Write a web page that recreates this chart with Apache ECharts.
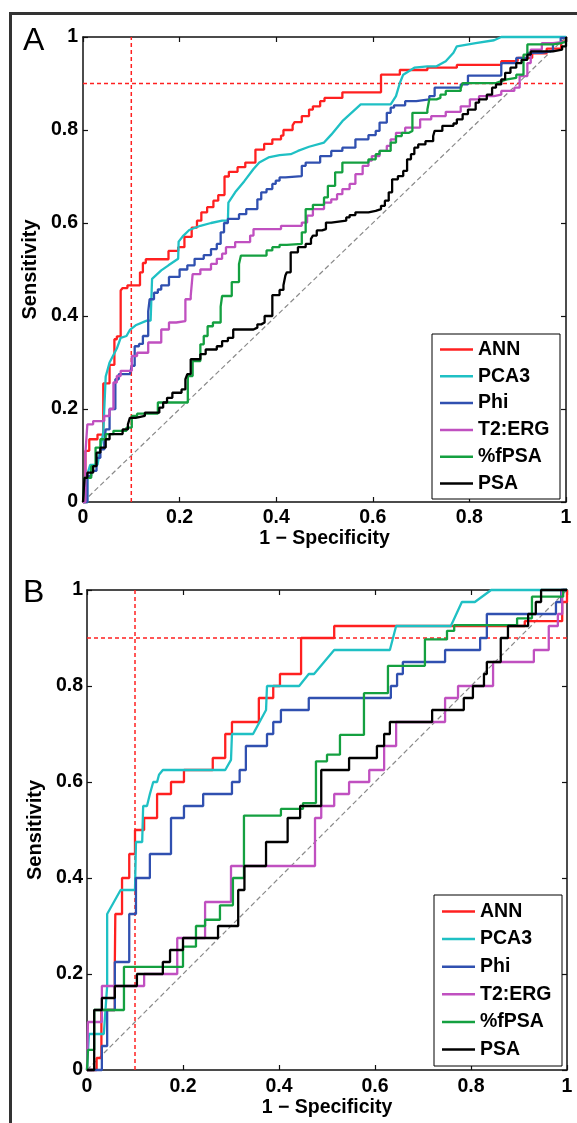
<!DOCTYPE html>
<html><head><meta charset="utf-8">
<script src="https://cdn.jsdelivr.net/npm/echarts@6/dist/echarts.min.js"></script>
<style>html,body{margin:0;padding:0;background:#fff}#c{width:577px;height:1123px}</style>
</head><body><div id="c"></div>
<script>
// ---------- data ----------
const seriesNames = ['ANN', 'PCA3', 'Phi', 'T2:ERG', '%fPSA', 'PSA'];
const seriesColors = ['#ff2020', '#1fc0c4', '#3050b0', '#c050c0', '#14a040', '#000000'];
const tickLabels = ['0', '0.2', '0.4', '0.6', '0.8', '1'];
const panelLabels = ['A', 'B'];
const refFpr = 0.1;   // vertical dashed red line (1 - specificity)
const refSens = 0.9;  // horizontal dashed red line (sensitivity)
const chanceLine = [[0, 0], [1, 1]];

// Panel A  ([1-specificity, sensitivity])
const annA = [[0,0],[0.005,0.11],[0.013,0.135],[0.03,0.145],[0.042,0.255],[0.055,0.295],[0.065,0.35],[0.07,0.356],[0.078,0.455],[0.082,0.46],[0.092,0.466],[0.118,0.494],[0.124,0.514],[0.13,0.522],[0.177,0.54],[0.197,0.548],[0.21,0.57],[0.225,0.59],[0.236,0.605],[0.245,0.623],[0.257,0.634],[0.27,0.648],[0.28,0.66],[0.293,0.7],[0.302,0.71],[0.32,0.72],[0.336,0.73],[0.357,0.758],[0.375,0.77],[0.392,0.78],[0.41,0.788],[0.415,0.8],[0.434,0.81],[0.438,0.817],[0.453,0.83],[0.468,0.844],[0.476,0.851],[0.491,0.862],[0.5,0.869],[0.537,0.881],[0.617,0.919],[0.656,0.929],[0.713,0.934],[0.774,0.94],[0.866,0.948],[0.9,0.955],[0.93,0.965],[0.96,0.975],[0.99,0.99],[1,1]];
const pca3A = [[0,0],[0.009,0],[0.009,0.06],[0.015,0.08],[0.03,0.08],[0.042,0.15],[0.047,0.27],[0.055,0.3],[0.07,0.33],[0.078,0.353],[0.09,0.357],[0.097,0.37],[0.109,0.38],[0.132,0.39],[0.14,0.39],[0.143,0.48],[0.147,0.484],[0.162,0.498],[0.177,0.509],[0.197,0.523],[0.198,0.56],[0.208,0.573],[0.22,0.585],[0.243,0.594],[0.265,0.6],[0.288,0.605],[0.3,0.605],[0.301,0.644],[0.315,0.666],[0.334,0.69],[0.353,0.716],[0.365,0.73],[0.384,0.741],[0.407,0.746],[0.43,0.748],[0.445,0.755],[0.468,0.764],[0.499,0.773],[0.514,0.79],[0.537,0.819],[0.575,0.855],[0.637,0.855],[0.648,0.873],[0.656,0.901],[0.663,0.919],[0.686,0.934],[0.713,0.937],[0.732,0.937],[0.751,0.948],[0.767,0.966],[0.774,0.98],[0.813,0.987],[0.851,0.993],[0.866,1],[1,1]];
const phiA = [[0,0],[0.009,0.056],[0.017,0.067],[0.028,0.095],[0.036,0.113],[0.044,0.128],[0.047,0.156],[0.055,0.2],[0.067,0.264],[0.074,0.275],[0.097,0.278],[0.101,0.293],[0.107,0.335],[0.116,0.34],[0.124,0.357],[0.135,0.41],[0.138,0.436],[0.147,0.45],[0.155,0.457],[0.162,0.466],[0.178,0.484],[0.2,0.5],[0.216,0.509],[0.231,0.523],[0.25,0.531],[0.265,0.544],[0.277,0.555],[0.285,0.58],[0.292,0.6],[0.3,0.609],[0.323,0.619],[0.338,0.63],[0.361,0.651],[0.369,0.666],[0.38,0.673],[0.392,0.684],[0.399,0.691],[0.407,0.698],[0.419,0.701],[0.453,0.723],[0.461,0.73],[0.491,0.744],[0.514,0.755],[0.537,0.762],[0.564,0.78],[0.591,0.789],[0.606,0.798],[0.614,0.816],[0.629,0.837],[0.637,0.848],[0.644,0.853],[0.667,0.862],[0.69,0.866],[0.717,0.873],[0.728,0.891],[0.782,0.898],[0.797,0.917],[0.866,0.944],[0.897,0.955],[0.92,0.966],[0.95,0.97],[0.973,0.987],[0.989,0.998],[1,1]];
const t2ergA = [[0,0],[0.005,0.106],[0.009,0.167],[0.021,0.174],[0.044,0.185],[0.055,0.2],[0.063,0.257],[0.07,0.271],[0.078,0.282],[0.101,0.314],[0.112,0.321],[0.135,0.343],[0.162,0.371],[0.178,0.386],[0.193,0.389],[0.212,0.436],[0.223,0.443],[0.227,0.49],[0.243,0.5],[0.265,0.512],[0.277,0.523],[0.288,0.534],[0.296,0.548],[0.315,0.559],[0.346,0.573],[0.353,0.587],[0.41,0.594],[0.453,0.601],[0.464,0.616],[0.476,0.63],[0.499,0.644],[0.514,0.651],[0.526,0.662],[0.537,0.673],[0.552,0.684],[0.564,0.705],[0.579,0.723],[0.591,0.734],[0.598,0.744],[0.614,0.755],[0.629,0.766],[0.637,0.78],[0.648,0.794],[0.667,0.805],[0.698,0.823],[0.721,0.83],[0.751,0.839],[0.782,0.851],[0.801,0.866],[0.82,0.873],[0.851,0.876],[0.866,0.884],[0.893,0.891],[0.904,0.916],[0.92,0.944],[0.927,0.973],[0.95,0.987],[0.973,0.99],[1,1]];
const fpsaA = [[0,0],[0.003,0.052],[0.017,0.077],[0.026,0.117],[0.036,0.135],[0.047,0.146],[0.063,0.153],[0.09,0.16],[0.101,0.185],[0.112,0.19],[0.155,0.214],[0.217,0.271],[0.227,0.303],[0.243,0.339],[0.25,0.357],[0.258,0.378],[0.269,0.386],[0.285,0.42],[0.288,0.443],[0.308,0.473],[0.323,0.512],[0.327,0.53],[0.38,0.541],[0.392,0.548],[0.407,0.553],[0.422,0.555],[0.453,0.58],[0.461,0.63],[0.476,0.639],[0.499,0.655],[0.507,0.68],[0.522,0.709],[0.537,0.73],[0.591,0.737],[0.606,0.748],[0.614,0.755],[0.637,0.773],[0.648,0.787],[0.66,0.794],[0.675,0.798],[0.682,0.837],[0.713,0.844],[0.717,0.866],[0.732,0.869],[0.74,0.876],[0.751,0.884],[0.782,0.889],[0.786,0.901],[0.855,0.905],[0.866,0.909],[0.878,0.912],[0.897,0.919],[0.912,0.962],[0.92,0.984],[0.973,0.987],[0.99,0.99],[1,1]];
const psaA = [[0,0],[0.003,0.052],[0.009,0.063],[0.021,0.077],[0.028,0.106],[0.036,0.117],[0.047,0.135],[0.055,0.146],[0.082,0.156],[0.093,0.167],[0.097,0.181],[0.109,0.185],[0.128,0.192],[0.158,0.203],[0.166,0.214],[0.174,0.224],[0.185,0.235],[0.204,0.242],[0.212,0.264],[0.216,0.275],[0.223,0.307],[0.243,0.318],[0.254,0.328],[0.277,0.335],[0.288,0.346],[0.3,0.353],[0.311,0.371],[0.353,0.375],[0.361,0.382],[0.369,0.386],[0.376,0.4],[0.392,0.445],[0.407,0.456],[0.415,0.466],[0.419,0.487],[0.422,0.494],[0.43,0.537],[0.445,0.548],[0.461,0.555],[0.472,0.566],[0.476,0.573],[0.484,0.584],[0.495,0.587],[0.503,0.601],[0.514,0.605],[0.545,0.612],[0.552,0.617],[0.564,0.623],[0.591,0.626],[0.606,0.63],[0.617,0.637],[0.625,0.648],[0.633,0.666],[0.64,0.694],[0.652,0.701],[0.663,0.712],[0.671,0.737],[0.679,0.748],[0.686,0.762],[0.694,0.769],[0.709,0.776],[0.725,0.787],[0.728,0.798],[0.744,0.809],[0.767,0.814],[0.774,0.823],[0.786,0.834],[0.797,0.844],[0.813,0.859],[0.82,0.866],[0.836,0.876],[0.847,0.891],[0.855,0.898],[0.866,0.909],[0.874,0.923],[0.885,0.934],[0.897,0.944],[0.908,0.951],[0.92,0.962],[0.927,0.969],[0.973,0.973],[0.992,0.98],[1,1]];

// Panel B
const annB = [[0,0],[0.02,0.025],[0.03,0.125],[0.058,0.225],[0.059,0.325],[0.073,0.4],[0.088,0.45],[0.1,0.5],[0.119,0.525],[0.146,0.575],[0.175,0.6],[0.202,0.625],[0.262,0.65],[0.288,0.7],[0.302,0.725],[0.358,0.775],[0.388,0.8],[0.402,0.825],[0.446,0.9],[0.515,0.925],[0.912,0.935],[0.99,0.975],[1,1]];
const pca3B = [[0,0],[0.004,0],[0.004,0.075],[0.035,0.075],[0.042,0.175],[0.042,0.325],[0.07,0.375],[0.1,0.375],[0.102,0.475],[0.115,0.475],[0.117,0.55],[0.125,0.55],[0.131,0.575],[0.138,0.6],[0.146,0.6],[0.15,0.615],[0.158,0.625],[0.288,0.625],[0.3,0.646],[0.302,0.7],[0.346,0.7],[0.373,0.75],[0.375,0.8],[0.442,0.8],[0.462,0.825],[0.473,0.825],[0.515,0.875],[0.631,0.875],[0.644,0.925],[0.758,0.925],[0.781,0.975],[0.808,0.975],[0.842,1],[1,1]];
const phiB = [[0,0],[0.031,0.05],[0.042,0.125],[0.058,0.225],[0.088,0.325],[0.102,0.4],[0.131,0.45],[0.175,0.525],[0.202,0.55],[0.242,0.575],[0.302,0.6],[0.318,0.625],[0.331,0.675],[0.375,0.7],[0.388,0.725],[0.404,0.75],[0.462,0.775],[0.633,0.8],[0.646,0.825],[0.658,0.85],[0.746,0.875],[0.819,0.9],[0.833,0.95],[0.977,0.975],[0.988,1],[1,1]];
const t2ergB = [[0,0],[0.002,0.1],[0.031,0.175],[0.119,0.2],[0.188,0.275],[0.246,0.35],[0.3,0.425],[0.475,0.525],[0.488,0.55],[0.515,0.575],[0.546,0.6],[0.588,0.625],[0.619,0.675],[0.644,0.725],[0.746,0.775],[0.773,0.8],[0.846,0.85],[0.931,0.875],[0.962,0.925],[0.981,0.95],[0.99,1],[1,1]];
const fpsaB = [[0,0],[0.002,0.042],[0.015,0.125],[0.077,0.215],[0.2,0.257],[0.227,0.3],[0.246,0.313],[0.277,0.343],[0.304,0.4],[0.327,0.53],[0.404,0.544],[0.45,0.556],[0.477,0.643],[0.5,0.657],[0.527,0.698],[0.577,0.785],[0.627,0.842],[0.704,0.897],[0.75,0.915],[0.765,0.927],[0.896,0.941],[0.927,0.986],[0.992,1],[1,1]];
const psaB = [[0,0],[0.015,0.125],[0.031,0.15],[0.058,0.175],[0.104,0.2],[0.158,0.225],[0.173,0.25],[0.2,0.275],[0.273,0.3],[0.315,0.375],[0.328,0.425],[0.373,0.475],[0.418,0.525],[0.444,0.55],[0.488,0.625],[0.546,0.65],[0.604,0.675],[0.619,0.7],[0.631,0.725],[0.719,0.75],[0.785,0.775],[0.804,0.8],[0.827,0.825],[0.833,0.85],[0.862,0.9],[0.877,0.925],[0.919,0.95],[0.935,0.975],[0.946,1],[1,1]];

const panelData = [
  [annA, pca3A, phiA, t2ergA, fpsaA, psaA],
  [annB, pca3B, phiB, t2ergB, fpsaB, psaB]
];
// PCA3 is drawn as a polyline (it has sloped runs); the others as staircases
const stepMode = ['end', false, 'end', 'end', 'end', 'end'];

// ---------- chart ----------
const FONT = '"Liberation Sans", Arial, sans-serif';
const FS = 19.5;
const grids = [
  { left: 83, top: 37, width: 483, height: 465 },
  { left: 87, top: 590, width: 480, height: 480 }
];
const AX = '#111';
const fmt = v => tickLabels[Math.round(v / 0.2)];
function baseAxis(gi) {
  return {
    type: 'value', gridIndex: gi, min: 0, max: 1, interval: 0.2,
    splitLine: { show: false },
    axisLine: { show: true, onZero: false, lineStyle: { color: AX, width: 1.5 } },
    axisTick: { show: true, inside: true, length: 5, lineStyle: { color: AX, width: 1.2 } }
  };
}
const xAxes = [], yAxes = [];
const xNameGap = [25, 26], xLblMargin = [5.5, 6.5], yNameGap = [40, 39], yLblMargin = [5, 4];
[0, 1].forEach(gi => {
  xAxes.push(Object.assign(baseAxis(gi), {
    position: 'bottom', name: '1 \u2212 Specificity', nameLocation: 'middle', nameGap: xNameGap[gi],
    nameTextStyle: { fontFamily: FONT, fontWeight: 'bold', fontSize: FS, color: '#000' },
    axisLabel: { formatter: fmt, fontFamily: FONT, fontWeight: 'bold', fontSize: FS, color: '#000', margin: xLblMargin[gi] }
  }));
  xAxes.push(Object.assign(baseAxis(gi), { position: 'top', axisLabel: { show: false } }));
  yAxes.push(Object.assign(baseAxis(gi), {
    position: 'left', name: 'Sensitivity', nameLocation: 'middle', nameGap: yNameGap[gi],
    nameTextStyle: { fontFamily: FONT, fontWeight: 'bold', fontSize: 20, color: '#000' },
    axisLabel: { formatter: fmt, fontFamily: FONT, fontWeight: 'bold', fontSize: FS, color: '#000', margin: yLblMargin[gi] }
  }));
  yAxes.push(Object.assign(baseAxis(gi), { position: 'right', axisLabel: { show: false } }));
});

const series = [];
[0, 1].forEach(gi => {
  const ax = { xAxisIndex: gi * 2, yAxisIndex: gi * 2 };
  const ref = (data, color, type, w) => Object.assign({
    type: 'line', data, symbol: 'none', silent: true, clip: false, z: 1,
    lineStyle: { color, width: w, type }, tooltip: { show: false }
  }, ax);
  series.push(ref(chanceLine, '#8a8a8a', [5, 3], 1.2));
  series.push(ref([[refFpr, 0], [refFpr, 1]], '#ff2020', [4, 3], 1.5));
  series.push(ref([[0, refSens], [1, refSens]], '#ff2020', [4, 3], 1.5));
  seriesNames.forEach((name, i) => {
    series.push(Object.assign({
      type: 'line', name, data: panelData[gi][i], step: stepMode[i],
      symbol: 'none', showSymbol: false, clip: false, z: 2,
      lineStyle: { color: seriesColors[i], width: 2.3 }, itemStyle: { color: seriesColors[i] }
    }, ax));
  });
});

function legend(left, top, gap, pad) {
  return {
    orient: 'vertical', left, top, itemWidth: 33, itemHeight: 2.5, itemGap: gap,
    icon: 'rect',
    padding: pad, borderColor: '#000', borderWidth: 1, backgroundColor: '#fff',
    selectedMode: false, data: seriesNames,
    textStyle: { fontFamily: FONT, fontWeight: 'bold', fontSize: FS, color: '#000' }
  };
}

const chart = echarts.init(document.getElementById('c'), null, { renderer: 'canvas' });
chart.setOption({
  animation: false,
  backgroundColor: '#fff',
  grid: grids,
  xAxis: xAxes,
  yAxis: yAxes,
  legend: [legend(432, 334, 6.8, [5.5, 10.5, 5.5, 8]), legend(434, 895, 7.6, [6.5, 10.5, 6.5, 8])],
  series,
  graphic: [
    { type: 'polyline', shape: { points: [[10.5, 1123], [10.5, 13.5], [577, 13.5]] },
      style: { stroke: '#333', lineWidth: 3, fill: null } },
    { type: 'text', left: 23, top: 25.5, style: { text: panelLabels[0], fontFamily: FONT, fontSize: 32, fill: '#000' } },
    { type: 'text', left: 23, top: 577.5, style: { text: panelLabels[1], fontFamily: FONT, fontSize: 32, fill: '#000' } }
  ]
});
</script></body></html>
